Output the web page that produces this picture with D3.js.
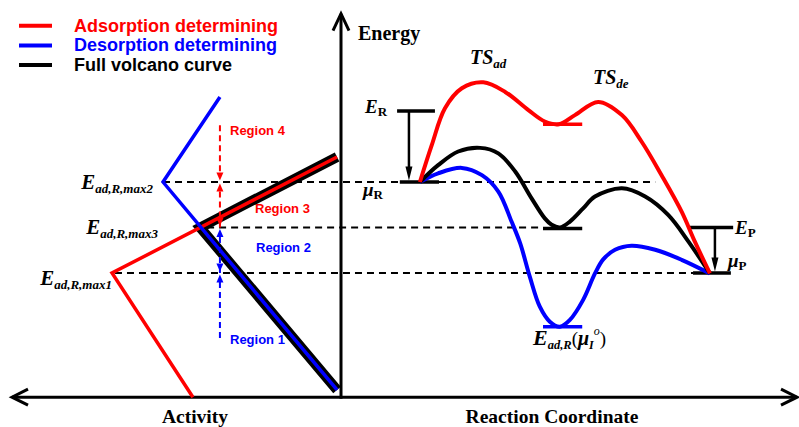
<!DOCTYPE html>
<html>
<head>
<meta charset="utf-8">
<title>Volcano curve</title>
<script src="https://d3js.org/d3.v7.min.js"></script>
<style>
  body { margin: 0; background: #fff; }
  .serif { font-family: "Liberation Serif", "Times New Roman", serif; font-weight: bold; }
  .sans { font-family: "Liberation Sans", Arial, sans-serif; font-weight: bold; }
</style>
</head>
<body>
<script>
// energy levels shared by both panels: E_ad,R,max2 / max3 / max1
var levelE = [4, 3, 2];
var dashFromActivity = [5.41, 4.07, 6.87];
var dashToCoord = [68.9, 44.3, 77.2];

// left panel: [activity, energy]
var adsLine = [[4.50, -0.73], [6.96, 2.0], [0.12, 4.55]];
var desLine = [[3.68, 5.87], [5.41, 4.0], [0.12, -0.57]];
var fullLine = [[0.12, 4.55], [4.28, 3.0], [0.12, -0.57]];

// region arrows at activity 3.68
var regionAct = 3.68;
var regionNames = ["Region 4", "Region 3", "Region 2", "Region 1"];
var regionFrom = [5.25, 3, 2, 0.57];
var regionTo = [4, 4, 3, 2];

// right panel: [reaction coordinate, energy]
var adsProfile = [[17.3, 4.00], [19.9, 4.81], [22.8, 5.62], [26.5, 6.06], [31.2, 6.19], [36.0, 5.98],
  [41.1, 5.58], [44.7, 5.33], [47.8, 5.27], [51.3, 5.47], [56.4, 5.76], [61.6, 5.47], [65.9, 4.89],
  [70.3, 4.15], [74.7, 3.35], [77.6, 2.69], [80.9, 1.99]];
var fullProfile = [[17.3, 4.00], [21.3, 4.37], [25.7, 4.67], [30.5, 4.75], [34.5, 4.63], [38.2, 4.23],
  [41.8, 3.64], [44.7, 3.20], [46.2, 3.06], [48.0, 3.00], [50.2, 3.13], [53.1, 3.42], [55.7, 3.68],
  [61.6, 3.86], [66.7, 3.68], [71.8, 3.27], [76.2, 2.69], [80.9, 1.99]];
var desProfile = [[17.3, 4.00], [21.3, 4.19], [26.5, 4.31], [30.9, 4.15], [34.5, 3.79], [37.4, 3.13],
  [39.3, 2.65], [41.4, 1.92], [43.6, 1.26], [45.8, 0.93], [48.0, 0.82], [50.2, 0.97], [53.1, 1.41],
  [55.7, 1.99], [57.5, 2.30], [60.1, 2.51], [63.7, 2.60], [68.9, 2.51], [74.7, 2.29], [80.9, 1.99]];

// horizontal level bars
var barStart = [12.3, 12.9, 44.3, 44.3, 44.3, 76.5, 77.2];
var barEnd = [20.6, 21.5, 52.9, 52.9, 52.9, 86.0, 85.5];
var barE = [5.56, 4, 5.27, 2.98, 0.82, 3, 2];
var barKind = ["full", "full", "ads", "full", "des", "full", "full"];

// E -> mu arrows
var dropAt = [14.9, 82.0];
var dropFrom = [5.56, 3];
var dropTo = [4, 2];

var legendNames = ["Adsorption determining", "Desorption determining", "Full volcano curve"];
var colors = { ads: "#ff0000", des: "#0000ff", full: "#000000" };
var legendKinds = ["ads", "des", "full"];

var svg = d3.select("body").append("svg").attr("width", 799).attr("height", 427);

var xA = d3.scaleLinear().domain([0, 10]).range([341, 12]);
var xR = d3.scaleLinear().domain([0, 100]).range([341, 797]);
var yE = d3.scaleLinear().domain([0, 4]).range([364, 182]);
var eMin = -0.73, eMax = 7.7;

function tri(x, y, dir, len, hw, color) {
  // dir: 1 = pointing down, -1 = pointing up
  svg.append("path")
    .attr("d", "M" + x + "," + y + "L" + (x - hw) + "," + (y - dir * len) + "L" + (x + hw) + "," + (y - dir * len) + "Z")
    .attr("fill", color);
}

// dashed reference lines
levelE.forEach(function (e, i) {
  svg.append("line")
    .attr("x1", xA(dashFromActivity[i])).attr("x2", xR(dashToCoord[i]))
    .attr("y1", yE(e)).attr("y2", yE(e))
    .attr("stroke", "#000").attr("stroke-width", 2).attr("stroke-dasharray", "7,5");
});

// axes
var axY = yE(eMin);
svg.append("line").attr("x1", xA(10)).attr("x2", xR(100)).attr("y1", axY).attr("y2", axY)
  .attr("stroke", "#000").attr("stroke-width", 3);
svg.append("line").attr("x1", xR(0)).attr("x2", xR(0)).attr("y1", axY + 1.5).attr("y2", yE(eMax))
  .attr("stroke", "#000").attr("stroke-width", 3);
svg.append("path").attr("d", "M" + (xA(10) + 16) + "," + (axY - 8) + "L" + xA(10) + "," + axY + "L" + (xA(10) + 16) + "," + (axY + 8))
  .attr("fill", "none").attr("stroke", "#000").attr("stroke-width", 3);
svg.append("path").attr("d", "M" + (xR(100) - 16) + "," + (axY - 8) + "L" + xR(100) + "," + axY + "L" + (xR(100) - 16) + "," + (axY + 8))
  .attr("fill", "none").attr("stroke", "#000").attr("stroke-width", 3);
svg.append("path").attr("d", "M" + (xR(0) - 8) + "," + (yE(eMax) + 17) + "L" + xR(0) + "," + yE(eMax) + "L" + (xR(0) + 8) + "," + (yE(eMax) + 17))
  .attr("fill", "none").attr("stroke", "#000").attr("stroke-width", 3);

// left panel
var lineA = d3.line().x(function (d) { return xA(d[0]); }).y(function (d) { return yE(d[1]); });
svg.append("path").attr("d", lineA(fullLine)).attr("fill", "none")
  .attr("stroke", colors.full).attr("stroke-width", 10);
svg.append("path").attr("d", lineA(adsLine)).attr("fill", "none")
  .attr("stroke", colors.ads).attr("stroke-width", 3.5);
svg.append("path").attr("d", lineA(desLine)).attr("fill", "none")
  .attr("stroke", colors.des).attr("stroke-width", 3.5);

// region arrows
regionNames.forEach(function (name, i) {
  var c = i < 2 ? colors.ads : colors.des;
  var x = xA(regionAct);
  var y1 = yE(regionFrom[i]), y2 = yE(regionTo[i]);
  var down = y2 > y1 ? 1 : -1;
  svg.append("line").attr("x1", x).attr("x2", x).attr("y1", y1).attr("y2", y2 - down * 8)
    .attr("stroke", c).attr("stroke-width", 2).attr("stroke-dasharray", "6,4");
  tri(x, y2 - down * 1.5, down, 8, 3.5, c);
  if (i == 1 || i == 2) tri(x, y1 + down * 1.5, -down, 8, 3.5, c);
});
var regionLabelX = [230, 255, 256, 230];
var regionLabelY = [135, 213, 252, 344];
regionNames.forEach(function (name, i) {
  svg.append("text").attr("class", "sans").attr("x", regionLabelX[i]).attr("y", regionLabelY[i])
    .attr("font-size", 13).attr("fill", i < 2 ? colors.ads : colors.des).text(name);
});

// left labels
function subLabel(x, y, main, sub, anchor, size) {
  var t = svg.append("text").attr("class", "serif").attr("x", x).attr("y", y)
    .attr("text-anchor", anchor).attr("font-style", "italic");
  t.append("tspan").attr("font-size", size || 21).text(main);
  t.append("tspan").attr("font-size", 13).attr("dy", 4).text(sub);
  return t;
}
subLabel(153, 189, "E", "ad,R,max2", "end");
subLabel(158, 234, "E", "ad,R,max3", "end");
subLabel(112, 285, "E", "ad,R,max1", "end");

// right panel
barStart.forEach(function (s, i) {
  svg.append("line").attr("x1", xR(s)).attr("x2", xR(barEnd[i]))
    .attr("y1", yE(barE[i])).attr("y2", yE(barE[i]))
    .attr("stroke", colors[barKind[i]]).attr("stroke-width", 3.5);
});
dropAt.forEach(function (c, i) {
  var x = xR(c), y1 = yE(dropFrom[i]), y2 = yE(dropTo[i]);
  svg.append("line").attr("x1", x).attr("x2", x).attr("y1", y1).attr("y2", y2 - 10)
    .attr("stroke", "#000").attr("stroke-width", 2.5);
  tri(x, y2 - 1.5, 1, 14, 3.5, "#000");
});

var lineR = d3.line().x(function (d) { return xR(d[0]); }).y(function (d) { return yE(d[1]); })
  .curve(d3.curveCatmullRom.alpha(0.5));
[[desProfile, "des"], [fullProfile, "full"], [adsProfile, "ads"]].forEach(function (p) {
  svg.append("path").attr("d", lineR(p[0])).attr("fill", "none")
    .attr("stroke", colors[p[1]]).attr("stroke-width", 4).attr("stroke-linejoin", "round");
});

// right labels
subLabel(470, 64, "TS", "ad", "start", 20);
subLabel(593, 84, "TS", "de", "start", 20);

function upSub(x, y, main, sub) {
  var t = svg.append("text").attr("class", "serif").attr("x", x).attr("y", y);
  t.append("tspan").attr("font-size", 19).attr("font-style", "italic").text(main);
  t.append("tspan").attr("font-size", 13).attr("dy", 3).text(sub);
}
upSub(365, 113, "E", "R");
upSub(363, 196, "\u03bc", "R");
upSub(735, 234, "E", "P");
upSub(728, 267, "\u03bc", "P");

var tl = svg.append("text").attr("class", "serif").attr("x", 533).attr("y", 345).attr("font-style", "italic");
tl.append("tspan").attr("font-size", 22).text("E");
tl.append("tspan").attr("font-size", 12.5).attr("dy", 4).text("ad,R");
tl.append("tspan").attr("font-size", 19).attr("dy", -4).attr("font-style", "normal").attr("font-weight", "normal").text("(");
tl.append("tspan").attr("font-size", 20).text("\u03bc");
tl.append("tspan").attr("font-size", 12).attr("dy", 4).text("I");
tl.append("tspan").attr("font-size", 12).attr("dy", -14).attr("font-weight", "normal").text("o");
tl.append("tspan").attr("font-size", 19).attr("dy", 10).attr("font-style", "normal").attr("font-weight", "normal").text(")");

// axis titles
svg.append("text").attr("class", "serif").attr("x", 358).attr("y", 40).attr("font-size", 20).text("Energy");
svg.append("text").attr("class", "serif").attr("x", 195).attr("y", 423).attr("font-size", 19.5)
  .attr("text-anchor", "middle").text("Activity");
svg.append("text").attr("class", "serif").attr("x", 552).attr("y", 423).attr("font-size", 19.5)
  .attr("text-anchor", "middle").text("Reaction Coordinate");

// legend
legendNames.forEach(function (name, i) {
  var y = 25.7 + i * 19.7;
  svg.append("line").attr("x1", 19).attr("x2", 52).attr("y1", y).attr("y2", y)
    .attr("stroke", colors[legendKinds[i]]).attr("stroke-width", 4);
  svg.append("text").attr("class", "sans").attr("x", 74).attr("y", y + 6)
    .attr("font-size", 18).attr("fill", colors[legendKinds[i]]).text(name);
});
</script>
</body>
</html>
